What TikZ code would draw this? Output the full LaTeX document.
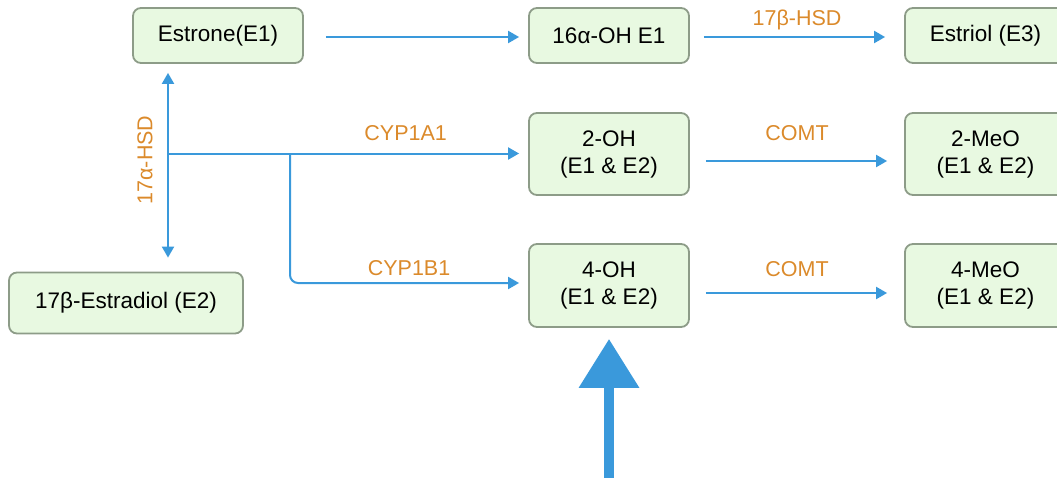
\documentclass[tikz,border=0pt]{standalone}
\usepackage{fontspec}
\setmainfont{Liberation Sans}
\usetikzlibrary{arrows.meta,calc}
\definecolor{flowblue}{HTML}{3A99DB}
\definecolor{enzyme}{HTML}{DB8A2B}
\definecolor{boxfill}{HTML}{E8F9E1}
\definecolor{boxline}{HTML}{8D9C88}

\begin{document}
\begin{tikzpicture}[x=1pt, y=-1pt, >={Triangle[length=11pt,width=12pt]},
    metab/.style={draw=boxline, fill=boxfill, line width=1.8pt, rounded corners=8pt,
        align=center, inner sep=0pt, font=\fontsize{22.5}{27}\selectfont},
    flow/.style={->, draw=flowblue, line width=2pt},
    enz/.style={text=enzyme, font=\fontsize{21.5}{24}\selectfont}]
    \useasboundingbox (0,0) rectangle (1057,477);

    % Estrogens
    \node[metab, minimum width=170pt, minimum height=55pt] (estrone) at (218,35.5) {Estrone(E1)};
    \node[metab, minimum width=234pt, minimum height=61pt] (estradiol) at (126,303) {17β-Estradiol (E2)};

    % Metabolites
    \node[metab, minimum width=160pt, minimum height=55pt] (ohsixteen) at (609,35.5) {16α-OH E1};
    \node[metab, minimum width=161pt, minimum height=55pt] (estriol) at (985.5,35.5) {Estriol (E3)};
    \node[metab, minimum width=160pt, minimum height=82pt] (ohtwo) at (609,154) {2-OH\\(E1 \& E2)};
    \node[metab, minimum width=161pt, minimum height=82pt] (meotwo) at (985.5,154) {2-MeO\\(E1 \& E2)};
    \node[metab, minimum width=160pt, minimum height=83pt] (ohfour) at (609,285.5) {4-OH\\(E1 \& E2)};
    \node[metab, minimum width=161pt, minimum height=83pt] (meofour) at (985.5,285.5) {4-MeO\\(E1 \& E2)};

    % Branch points
    \coordinate (hub) at (168,153.5);
    \coordinate (split) at (290,153.5);
    \coordinate (source) at (609,480);

    % 16-hydroxylation
    \draw[flow, shorten <=22pt, shorten >=9pt] ([yshift=-1.5pt]estrone.east) -- ([yshift=-1.5pt]ohsixteen.west);
    \draw[flow, shorten <=14pt, shorten >=19pt] ([yshift=-1.5pt]ohsixteen.east) -- ([yshift=-1.5pt]estriol.west)
        node[enz, midway, above=3pt] (lblhsdb) {17β-HSD};

    % E1 <-> E2
    \draw[flow, <->, shorten <=9pt, shorten >=14pt] (hub |- estrone.south) -- (hub |- estradiol.north);
    \node[enz, rotate=90] (lblhsda) at (145,160) {17α-HSD};

    % CYP hydroxylation
    \draw[flow, shorten >=9pt] (hub) -- (hub -| ohtwo.west)
        node[enz, pos=.66, above=8pt] (lblcypa) {CYP1A1};
    \draw[flow, rounded corners=8pt, shorten >=9pt] (split) |- ([yshift=2.5pt]ohfour.west)
        node[enz, pos=.75, above=3pt] (lblcypb) {CYP1B1};

    % Methylation
    \draw[flow, shorten <=16pt, shorten >=17pt] ([yshift=-7pt]ohtwo.east) -- ([yshift=-7pt]meotwo.west)
        node[enz, midway, above=16pt] (lblcomta) {COMT};
    \draw[flow, shorten <=16pt, shorten >=17pt] ([yshift=-7.5pt]ohfour.east) -- ([yshift=-7.5pt]meofour.west)
        node[enz, midway, above=12pt] (lblcomtb) {COMT};

    % Highlight
    \draw[-{Triangle[length=49pt,width=58pt]}, draw=flowblue, fill=flowblue, line width=10pt, shorten >=11pt]
        (source) -- (ohfour.south);
\end{tikzpicture}
\end{document}
